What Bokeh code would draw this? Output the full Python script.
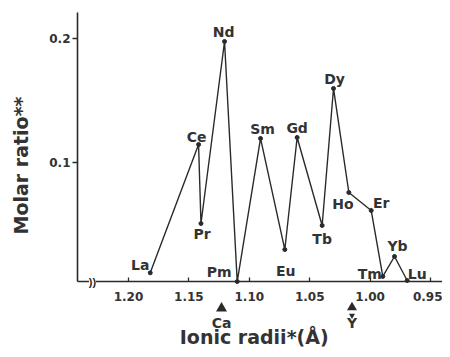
import math
from bokeh.plotting import figure
from bokeh.models import Range1d, FixedTicker, ColumnDataSource
from bokeh.core.properties import value
from bokeh.embed import file_html
from bokeh.resources import INLINE

# ---- data ----
elements = ["La", "Ce", "Pr", "Nd", "Pm", "Sm", "Eu", "Gd", "Tb", "Dy", "Ho", "Er", "Tm", "Yb", "Lu"]
ionic_radii = [1.182, 1.142, 1.140, 1.1205, 1.110, 1.0907, 1.0706, 1.0604, 1.0397, 1.0303, 1.0176, 0.9991, 0.9895, 0.9798, 0.9693]
molar_ratio = [0.011, 0.1145, 0.0508, 0.1976, 0.004, 0.1194, 0.0298, 0.1202, 0.0492, 0.1597, 0.0758, 0.0613, 0.0081, 0.0242, 0.0048]

x_ticks = [1.20, 1.15, 1.10, 1.05, 1.00, 0.95]
x_tick_labels = ["1.20", "1.15", "1.10", "1.05", "1.00", "0.95"]
y_ticks = [0.1, 0.2]
y_tick_labels = ["0.1", "0.2"]

ref_ions = ["Ca", "Y"]
ref_radii = [1.123, 1.015]

# ---- layout (not data) ----
label_dx = [-10, -2, 1, -1, -18, 2, 1, 0, 0, 1, -6, 10, -13, 3, 10]
label_dy = [-8, -8, 10, -9, -10, -9, 21, -9, 14, -9, 11, -7, -2, -10, -7]

X_LEFT, X_RIGHT = 1.2422, 0.9401      # extent of the drawn x axis
Y_BOTTOM, Y_TOP = 0.004, 0.221        # extent of the drawn y axis

FONT = "DejaVu Sans"
INK = "#2a2a2a"
TXT = "#333333"

p = figure(width=442, height=349,
           x_range=Range1d(1.30596, 0.94007), y_range=Range1d(-0.05081, 0.23065),
           output_backend="svg", toolbar_location=None,
           min_border_left=0, min_border_right=0, min_border_top=0, min_border_bottom=0)
p.outline_line_color = None
p.grid.visible = False
p.background_fill_color = "white"
p.border_fill_color = "white"

for ax in (p.xaxis[0], p.yaxis[0]):
    ax.axis_line_color = INK
    ax.axis_line_width = 1.6
    ax.major_tick_line_color = INK
    ax.major_tick_line_width = 1.3
    ax.minor_tick_line_color = None
    ax.major_label_text_font = FONT
    ax.major_label_text_font_style = "bold"
    ax.major_label_text_font_size = "12px"
    ax.major_label_text_color = TXT

p.xaxis.fixed_location = Y_BOTTOM
p.xaxis.bounds = (X_RIGHT, X_LEFT)
p.xaxis.ticker = FixedTicker(ticks=x_ticks)
p.xaxis.major_label_overrides = {t: l for t, l in zip(x_ticks, x_tick_labels)}
p.xaxis.major_tick_in = 4
p.xaxis.major_tick_out = 0
p.xaxis.major_label_standoff = 10

p.yaxis.fixed_location = X_LEFT
p.yaxis.bounds = (Y_BOTTOM, Y_TOP)
p.yaxis.ticker = FixedTicker(ticks=y_ticks)
p.yaxis.major_label_overrides = {t: l for t, l in zip(y_ticks, y_tick_labels)}
p.yaxis.major_tick_in = 0
p.yaxis.major_tick_out = 5
p.yaxis.major_label_standoff = 2

src = ColumnDataSource(dict(x=ionic_radii, y=molar_ratio, name=elements,
                            dx=label_dx, dy=label_dy))
p.line("x", "y", source=src, line_width=1.4, line_color=INK)
p.scatter("x", "y", source=src, size=4, color=INK)
p.text("x", "y", text="name", source=src, x_offset="dx", y_offset="dy",
       text_align="center", text_baseline="middle",
       text_font=value(FONT), text_font_style="bold", text_font_size="14px",
       text_color=TXT)

# axis break mark on the x axis
BREAK_X = 1.2298
p.rect([BREAK_X], [Y_BOTTOM], width=7, height=8, width_units="screen", height_units="screen",
       fill_color="white", line_color=None, level="overlay")
p.text([BREAK_X], [Y_BOTTOM], text=["))"], text_align="center", text_baseline="middle",
       text_font=value("Liberation Sans"), text_font_style="bold", text_font_size="11px",
       text_color=INK, level="overlay")

# reference ions (Ca, Y) below the axis
MARK_Y = -0.0177
ION_Y = -0.0292
p.scatter([ref_radii[0]], [MARK_Y], marker="triangle", size=11, color=INK, line_width=0)
p.scatter([ref_radii[1]], [MARK_Y + 0.0008], marker="triangle", size=10, color=INK, line_width=0)
p.scatter([ref_radii[1]], [MARK_Y - 0.0057], marker="inverted_triangle", size=6, color=INK, line_width=0)
p.text(ref_radii, [ION_Y] * len(ref_radii), text=ref_ions, text_align="center", text_baseline="middle",
       text_font=value(FONT), text_font_style="bold", text_font_size="14px", text_color=TXT)

# axis titles
p.text([1.0932], [-0.0411], text=["Ionic  radii*(Å)"], text_align="center", text_baseline="middle",
       text_font=value(FONT), text_font_style="bold", text_font_size="19px", text_color=TXT)
p.text([1.2886], [0.0976], text=["Molar ratio**"], angle=math.pi / 2,
       text_align="center", text_baseline="middle",
       text_font=value(FONT), text_font_style="bold", text_font_size="19px", text_color=TXT)

open("out.html", "w").write(file_html(p, INLINE))
